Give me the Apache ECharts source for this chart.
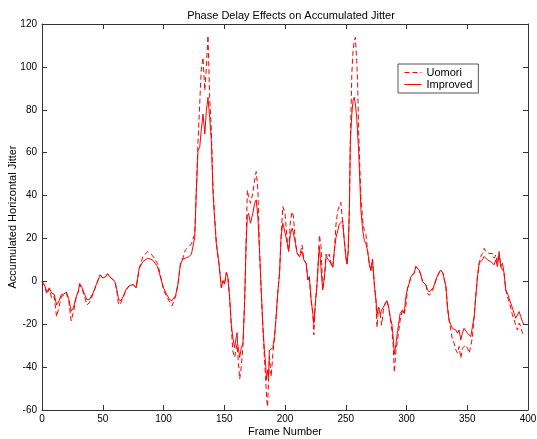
<!DOCTYPE html>
<html>
<head>
<meta charset="utf-8">
<script src="https://cdn.jsdelivr.net/npm/echarts@6/dist/echarts.min.js"></script>
<style>html,body{margin:0;padding:0;background:#fff;}#c{width:537px;height:439px;}</style>
</head>
<body>
<div id="c"></div>
<script>
const frames = [0,2,4,6,8,10,12,14,16,18,20,22,24,26,28,30,31,33,35,37,39,42,45,48,50,52,54,56,58,60,62,63,65,67,69,72,75,77.5,80,83,87,91,95,97,100,102.5,105,107,108,110,112,113,114,116,118,121,123,124,125.7,127,128.4,129.8,131,132.5,134,135.3,136.6,138,139.4,140.7,142,143.5,145.7,147.6,149,150.3,151.7,153,154.4,155.8,157,158.5,160.5,161,162.7,164,165.4,166.8,168,169,170,171.6,173.5,175,176.3,177.7,179,180.4,181.8,183,184,184.8,185.6,186.4,187.2,188.6,190,191.4,192.7,194,195.5,196.8,198.2,199,200,201.8,203,204.5,206,207,208.6,210,212,214,215.5,217.4,218.8,220,221.5,222.9,223.7,224.8,226.4,227.5,228.3,229.7,231,232.5,233.8,235,236.5,238,239.3,240.6,242,243.4,244.7,246,247.5,248.8,250.2,251,252,253,253.8,255,256,257,257.9,259,259.8,260.6,261.7,262.5,264,265.3,266.6,268,269.4,270.8,272,273.5,274.9,275.7,277,278.4,279.5,280.9,282.3,283.9,285.3,286.6,288,289,290,291.3,292.7,294.8,296.8,298.1,299.5,300.9,302.2,303.6,305,306.3,307.7,309,310.4,311.8,313.2,314.6,316,317.3,318.7,320,322,325,328,330,332.4,333.7,335,336.5,337.8,339.2,340.6,342,343.3,344.7,346,347.4,348.8,350.2,351.5,352.9,354.3,355.7,357,358.4,359.8,361.1,362.5,363.9,365.2,366.6,368,369.4,370.7,372.1,373.5,374.8,376.2,377.6,379,380.3,381.7,383,384.4,385.8,387.2,388.5,389.9,391.3,392.7,394,395.4,396.8];

const uomori = [0,-2,-6,-3.5,-8,-7,-16.5,-12,-7,-6.5,-5.5,-9,-18.5,-14,-8,-4.5,-1.5,-3.5,-7,-11,-10,-6,-1,3,1.5,2,3.5,2,1,0,-6,-11,-10,-7,-4,-2,-1.5,-3,6,11.5,13.9,12,8.4,4,-4,-7,-9.5,-11.4,-11.5,-7,-1,3.8,8.5,11,14.6,16.2,17.5,19.3,22,42,65,82.7,98,104.4,89,99.8,114.6,85.8,70,44,31,18,8,-3,0.3,-1.3,4.1,1.8,-7.5,-21,-32.4,-35.5,-29.3,-33,-45.6,-40,-30,-9,18,42.6,39.5,36.4,41,47.3,51.2,42.6,15,-4,-21,-35,-44.5,-53.8,-58.5,-47.6,-35,-44.5,-34,-25.8,-16.5,-5.6,3.8,20.9,34.9,34.9,31.7,19.3,13.9,28.6,32.5,30,17.8,13.1,11.5,17,10,8.4,0.6,2.2,-8.7,-14.9,-25,-11.8,-0.9,10,21.6,16.2,-4,2.2,12.7,11,12.7,8,6.5,14.2,26.7,33,35.2,36.8,36,19,11,8,14.2,34.5,65.6,96.7,107.6,112,113.8,103,92,70,51.6,39.1,28.2,23.6,22,14.2,8,5,10.4,-1.3,-9,-21.5,-12,-15.3,-20.5,-13.7,-10.6,-9,-12,-16.9,-23,-29.3,-42.5,-32.4,-27,-18,-13.3,-14.9,-11.8,-3.2,-0.9,2.2,2.2,3.8,6.9,7.7,5.3,3,-0.1,-0.9,-1.7,-5.5,-6.5,-5.5,-3.5,2,5.3,3.8,-2.4,-11.8,-18,-22.7,-27.3,-28.9,-32,-33.5,-30.4,-35.9,-31.2,-32,-29.7,-31.2,-33.5,-30.4,-25.8,-16.4,-7.1,2.2,8.4,11.6,13,15.4,13.9,14.6,13,13.9,13,10.8,12.3,8.4,13.9,6.9,6,3.8,-4,-7.1,-9.4,-12.5,-15.7,-18,-20.3,-22.7,-19.5,-21,-24.2,-25.8];

const improved = [0,-1.5,-5,-3,-5.5,-6,-11,-9,-6,-6,-5,-8,-14,-12,-7.5,-4.5,-1,-3,-6,-8.5,-8.5,-5.5,-1,3,1.5,2,3.5,2,1,0,-5,-8.5,-9,-7,-4,-2,-1.5,-3,6,9.2,10.8,10,6.9,3,-3,-6,-8.5,-9,-9.5,-6.5,-1,3.8,8,10.5,10.8,11.5,12.7,13.5,20.5,42,61,62.5,70,78,68.7,79.6,85.8,76.5,65.6,42,29.8,17.4,8,-2.9,0.3,-1.3,4.1,1.8,-7.5,-20,-26,-30.9,-23.9,-29,-35.5,-31,-29,-9,18,30.2,31.7,27.1,31.7,36.4,38,30,14.6,-4,-21,-32,-38.2,-46,-41.3,-44.5,-32,-32.8,-31,-25.8,-16.5,-5.6,3.8,20.9,27.1,25.5,25.5,17.8,13.9,22.4,24.8,24,17.8,13.1,11.5,14,10,8.4,0.6,2.2,-8.7,-14.9,-19.6,-11.8,-0.9,10,16.2,16.2,-4,2.2,11.5,10.8,9.5,8,6.5,14.2,20.5,23.6,26.7,26.7,28.2,19,11,8,14.2,34.5,65.6,78,84.2,85.8,82.7,76.5,68.7,61,45.3,32.9,23.6,19,17.5,14.2,8,5,10.4,-1.3,-9,-15.3,-12,-15.3,-13.5,-13.7,-10.6,-9,-12,-16.9,-20,-26,-34,-29.3,-23,-14.9,-13.3,-14.9,-7.1,-3.2,-0.9,2.2,2.2,3.8,6.9,7.7,5.3,3,-0.1,-0.9,-1.7,-4,-5,-4.5,-3,2,5.3,3.8,-2.4,-11.8,-18,-20.3,-21.9,-21.9,-22.7,-24.2,-22.7,-27.3,-24.2,-21.9,-22.7,-24.2,-25,-25.8,-21,-16.4,-7.1,2.2,8.4,9.2,10,11.6,10.8,10,10.8,9.2,10,7.7,10,6.9,13,6.9,8.4,3.8,-4,-5.5,-7.9,-10.2,-12.5,-14.9,-17.2,-15.7,-14.1,-16.4,-18.8,-20.3];

const xTicks = [0,50,100,150,200,250,300,350,400];
const yTicks = [-60,-40,-20,0,20,40,60,80,100,120];

const FONT = '"Liberation Sans", Arial, Helvetica, sans-serif';
const AX = '#333';

const chart = echarts.init(document.getElementById('c'), null, {renderer: 'canvas'});
const tickStyle = {show: true, inside: true, length: 5, lineStyle: {color: AX, width: 1}};
const lineStyleAx = {show: true, onZero: false, lineStyle: {color: AX, width: 1}};
chart.setOption({
  animation: false,
  backgroundColor: '#fff',
  title: {
    text: 'Phase Delay Effects on Accumulated Jitter',
    left: 286, top: 5, textAlign: 'center',
    textStyle: {fontFamily: FONT, fontSize: 11, fontWeight: 'normal', color: '#000'}
  },
  legend: {
    orient: 'vertical',
    left: 398, top: 64,
    itemWidth: 17, itemHeight: 8, itemGap: 1,
    padding: [3, 6, 3, 6],
    borderColor: '#555', borderWidth: 1,
    backgroundColor: '#fff',
    itemStyle: {opacity: 0},
    lineStyle: {width: 1},
    textStyle: {fontFamily: FONT, fontSize: 11, color: '#000'},
    data: ['Uomori', 'Improved']
  },
  grid: {left: 42, right: 9, top: 24, bottom: 29, containLabel: false, outerBoundsMode: 'none'},
  xAxis: [{
    type: 'value', min: 0, max: 400, interval: 50,
    name: 'Frame Number', nameLocation: 'middle', nameGap: 16, nameMoveOverlap: false,
    nameTextStyle: {fontFamily: FONT, fontSize: 11, color: '#000'},
    axisLine: lineStyleAx,
    axisTick: tickStyle,
    axisLabel: {fontFamily: FONT, fontSize: 10, color: '#000', margin: 4,
      formatter: v => xTicks.includes(v) ? String(v) : ''},
    splitLine: {show: false}
  }, {
    type: 'value', min: 0, max: 400, interval: 50, position: 'top',
    axisLine: lineStyleAx,
    axisTick: tickStyle, axisLabel: {show: false}, splitLine: {show: false}
  }],
  yAxis: [{
    type: 'value', min: -60, max: 120, interval: 20,
    name: 'Accumulated Horizontal Jitter', nameLocation: 'middle', nameGap: 24, nameMoveOverlap: false,
    nameTextStyle: {fontFamily: FONT, fontSize: 11, color: '#000'},
    axisLine: lineStyleAx,
    axisTick: tickStyle,
    axisLabel: {fontFamily: FONT, fontSize: 10, color: '#000', margin: 5,
      formatter: v => yTicks.includes(v) ? String(v) : ''},
    splitLine: {show: false}
  }, {
    type: 'value', min: -60, max: 120, interval: 20, position: 'right',
    axisLine: lineStyleAx,
    axisTick: tickStyle, axisLabel: {show: false}, splitLine: {show: false}
  }],
  series: [{
    name: 'Uomori', type: 'line', xAxisIndex: 0, yAxisIndex: 0,
    symbol: 'none', smooth: false,
    lineStyle: {color: '#ff0000', width: 1, type: [5, 3]},
    itemStyle: {color: '#ff0000'},
    data: frames.map((f, i) => [f, uomori[i]])
  }, {
    name: 'Improved', type: 'line', xAxisIndex: 0, yAxisIndex: 0,
    symbol: 'none', smooth: false,
    lineStyle: {color: '#ff0000', width: 1, type: 'solid'},
    itemStyle: {color: '#ff0000'},
    data: frames.map((f, i) => [f, improved[i]])
  }]
});
</script>
</body>
</html>
